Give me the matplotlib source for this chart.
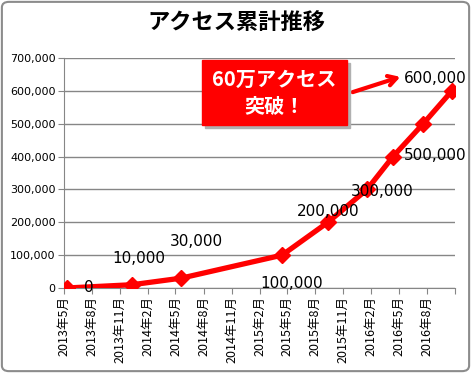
import pandas as pd
import matplotlib
matplotlib.use("Agg")
import matplotlib.pyplot as plt
import matplotlib.dates as mdates
from matplotlib.ticker import FuncFormatter, MultipleLocator
from matplotlib.patches import FancyBboxPatch, Rectangle

plt.rcParams['font.family'] = ['DejaVu Sans', 'Noto Sans CJK JP']

title = "アクセス累計推移"
callout = "60万アクセス\n突破！"

# dates
dates = pd.to_datetime(["2013-05-10", "2013-12-10", "2014-05-20", "2015-04-15",
                        "2015-09-12", "2016-01-18", "2016-04-12", "2016-07-20",
                        "2016-10-22"])
access = [0, 10000, 30000, 100000, 200000, 300000, 400000, 500000, 600000]
labels = ["0", "10,000", "30,000", "100,000", "200,000", "300,000", "",
          "500,000", "600,000"]
# label offsets in pixels (moved by hand in the original)
offsets = [(22, 0), (7, 26), (15, 37), (10, -28), (0, 11), (15, -2), (0, 0),
           (12, -32), (-17, 12)]
last_label = pd.Timestamp("2016-08-01")

fig = plt.figure(figsize=(4.71, 3.73), dpi=100)
ax = fig.add_axes([64 / 471, 85 / 373, 391 / 471, 230 / 373])

ax.plot(dates, access, color="#ff0000", lw=3.8, marker="D", ms=8,
        solid_joinstyle="miter", zorder=3)

for d, v, lab, (dx, dy) in zip(dates, access, labels, offsets):
    if lab:
        ax.annotate(lab, (d, v), xytext=(dx, dy), textcoords="offset pixels",
                    ha="center", va="center", fontsize=11, zorder=4)


def month_label(v, p):
    d = mdates.num2date(v)
    if d.replace(tzinfo=None) > last_label + pd.Timedelta(days=5):
        return ""
    return "{0}年{1}月".format(d.year, d.month)


ax.set_ylim(0, 700000)
ax.yaxis.set_major_locator(MultipleLocator(100000))
ax.yaxis.set_major_formatter(FuncFormatter(lambda v, p: f"{int(v):,}"))
ax.set_xlim(pd.Timestamp("2013-05-01"), pd.Timestamp("2016-11-01"))
ax.xaxis.set_major_locator(mdates.MonthLocator(bymonth=[2, 5, 8, 11]))
ax.xaxis.set_major_formatter(FuncFormatter(month_label))

ax.grid(axis="y", color="#868686", lw=1)
ax.set_axisbelow(True)
for s in ["top", "right"]:
    ax.spines[s].set_visible(False)
for s in ["left", "bottom"]:
    ax.spines[s].set_color("#868686")
ax.tick_params(axis="both", colors="#868686", length=4, labelcolor="black")
ax.tick_params(axis="y", labelsize=8, pad=2)
ax.tick_params(axis="x", labelsize=9, labelrotation=90, pad=2)
for t in ax.get_xticklabels():
    t.set_family(["Noto Sans CJK JP"])

# chart border
fig.patches.append(FancyBboxPatch((0.004, 0.005), 0.992, 0.99,
                                  boxstyle="round,pad=0,rounding_size=0.015",
                                  transform=fig.transFigure, fill=False,
                                  ec="#8c8c8c", lw=1.5))

fig.text(236 / 471, 1 - 23 / 373, title, ha="center", va="center",
         fontsize=16, fontweight="bold", family=["Noto Sans CJK JP"])

# callout box with shadow
bx, by, bw, bh = 202 / 471, 1 - 125 / 373, 145 / 471, 65 / 373
fig.patches.append(Rectangle((bx + 3 / 471, by - 3 / 373), bw, bh,
                             transform=fig.transFigure, color="#b0b0b0",
                             zorder=5))
fig.patches.append(Rectangle((bx, by), bw, bh, transform=fig.transFigure,
                             color="#ff0000", zorder=6))
fig.text(bx + bw / 2, by + bh / 2, callout, ha="center", va="center",
         color="white", fontsize=14.5, fontweight="bold", linespacing=1.3,
         family=["Noto Sans CJK JP"], zorder=7)
ax.annotate("", xy=(403, 373 - 76), xycoords="figure pixels",
            xytext=(350, 373 - 93), textcoords="figure pixels",
            arrowprops=dict(arrowstyle="->,head_length=0.6,head_width=0.35",
                            color="#ff0000", lw=3), annotation_clip=False)

fig.savefig("out.png", dpi=100)
